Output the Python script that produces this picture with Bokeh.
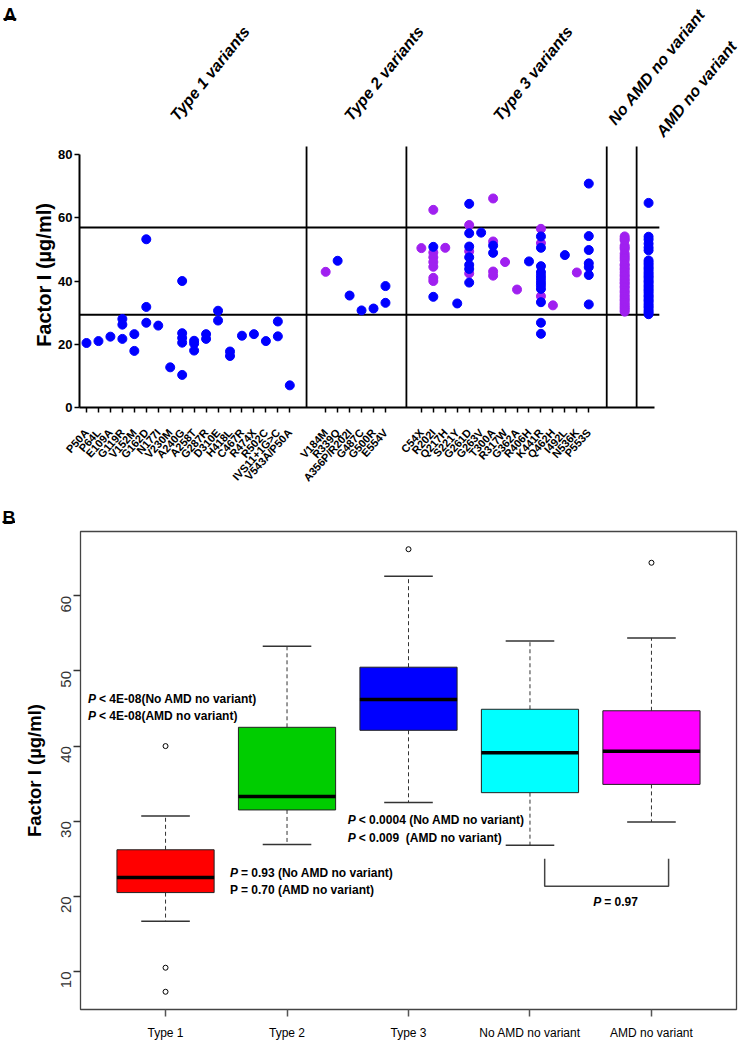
import math
from bokeh.plotting import figure
from bokeh.models import FixedTicker
from bokeh.layouts import column
from bokeh.embed import file_html
from bokeh.resources import INLINE
from bokeh.core.properties import value

# ---------------- Panel A data ----------------
type1_labels = ["P50A", "P64L", "E109A", "G119R", "V152M", "G162D", "N177I", "V230M", "A240G",
                "A258T", "G287R", "D310E", "H418L", "C467R", "R474X", "R502C", "IVS11+1G>C", "V543A/P50A"]
type1_blue = [[20.4], [21.0], [22.4], [28.0, 26.2, 21.7], [23.2, 17.9], [53.2, 31.8, 26.8], [25.9],
              [12.7], [40.0, 23.5, 22.0, 20.5, 10.3], [21.1, 20.2, 18.0], [23.2, 21.7], [30.6, 27.5],
              [17.7, 16.3], [22.7], [23.2], [21.0], [27.2, 22.5], [7.0]]
type1_purple = [[] for _ in type1_labels]

type2_labels = ["V184M", "R339Q", "A356P/R202I", "G487C", "G500R", "E554V"]
type2_blue = [[], [46.4], [35.4], [30.7], [31.3], [38.4, 33.1]]
type2_purple = [[42.9], [], [], [], [], []]

type3_labels = ["C54X", "R202I", "Q217H", "S221Y", "G261D", "G263V", "T300A", "R317W", "G362A",
                "R406H", "K441R", "Q462H", "I492L", "N536K", "P553S"]
type3_blue = [[], [50.8, 35.0], [], [32.9], [64.4, 55.1, 50.9, 47.5, 45.1, 43.8, 39.5], [55.3],
              [51.2, 48.9], [], [], [46.2],
              [54.1, 50.5, 44.7, 42.8, 41.7, 40.7, 39.6, 38.6, 37.5, 33.3, 26.8, 23.3],
              [], [48.2], [], [70.8, 54.2, 49.8, 45.6, 44.4, 41.9, 32.6]]
type3_purple = [[50.4], [62.5, 49.0, 47.5, 46.0, 44.5, 41.0, 40.0], [50.5], [], [57.7, 49.4, 42.4], [],
                [66.1, 52.5, 43.0, 41.7], [46.0], [37.3], [], [56.5, 52.0, 35.2], [32.3], [], [42.7], []]

noamd_values = [54.1, 53.4, 52.9, 51.2, 50.6, 50.1, 48.7, 47.9, 47.2, 46.5, 45.3, 44.9, 44.1, 43.6,
                42.8, 42.0, 41.5, 40.7, 40.2, 39.5, 39.1, 38.3, 37.8, 36.9, 36.4, 35.6, 35.0, 34.3,
                33.8, 33.1, 32.5, 31.9, 31.4, 30.8, 30.3]
amd_values = [64.7, 54.0, 53.1, 51.8, 50.6, 49.7, 46.5, 45.8, 45.1, 44.3, 43.7, 42.9, 42.2, 41.5,
              40.9, 40.1, 39.6, 38.8, 38.2, 37.5, 36.9, 36.2, 35.4, 34.9, 34.1, 33.6, 32.8, 32.1,
              31.5, 30.7, 30.1, 29.5]

ref_lines = [56.9, 29.3]
group_names = ["Type 1 variants", "Type 2 variants", "Type 3 variants", "No AMD no variant", "AMD no variant"]

# ---------------- Panel B data ----------------
box_labels = ["Type 1", "Type 2", "Type 3", "No AMD no variant", "AMD no variant"]
box_lower = [16.7, 26.9, 32.5, 26.8, 29.9]
box_q1 = [20.5, 31.5, 42.1, 33.8, 34.9]
box_median = [22.5, 33.3, 46.2, 39.1, 39.3]
box_q3 = [26.2, 42.5, 50.5, 44.9, 44.7]
box_upper = [30.7, 53.3, 62.6, 54.0, 54.4]
box_colors = ["#ff0000", "#00cd00", "#0000ff", "#00ffff", "#ff00ff"]
outlier_group = [1, 1, 1, 3, 5]
outlier_values = [40.0, 10.5, 7.3, 66.2, 64.4]

p_rest = ["< 4E-08(No AMD no variant)", "< 4E-08(AMD no variant)",
          "= 0.93 (No AMD no variant)", "= 0.70 (AMD no variant)",
          "< 0.0004 (No AMD no variant)", "< 0.009\u00a0\u00a0(AMD no variant)", "= 0.97"]
p_italic = [True, True, True, False, True, True, True]

BLUE = "#0000ff"
PURPLE = "#a020f0"
SANS = "'Liberation Sans', Arial, sans-serif"

# ---------------- positions (layout) ----------------
pos1 = list(range(0, 18))
pos2 = list(range(20, 26))
pos3 = list(range(28, 43))
pos_noamd, pos_amd = 45, 47
separators = [18.4, 26.75, 43.5, 46.0]
XR = (-0.585, 55.02)      # panel A x range (frame from page x 87 to 752)

COMMON = dict(output_backend="svg", toolbar_location=None, frame_align=False)

# ---------------- header with group names ----------------
hdr = figure(width=744, height=142, x_range=(-7.191, 55.017), y_range=(0, 142),
             x_axis_type=None, y_axis_type=None,
             min_border_left=0, min_border_right=0, min_border_top=0, min_border_bottom=0, **COMMON)
hdr.outline_line_color = None
hdr.grid.visible = False
grp_x = [7.27, 21.82, 34.28, 43.9, 47.9]
grp_y = [24, 24, 24, 20, 8]
hdr.text(x=grp_x, y=grp_y, text=group_names, angle=math.radians(51), text_font=value(SANS),
         text_font_style="bold italic", text_font_size="16px", text_align="left",
         text_baseline="alphabetic", text_color="black")
hdr.text(x=[-6.95], y=[128], text=["A"], text_font=value(SANS), text_font_style="bold",
         text_font_size="18px", text_align="left", text_baseline="alphabetic")
hdr.segment(x0=[-6.95], x1=[-5.87], y0=[123.5], y1=[123.5], line_color="black", line_width=1.8)

# ---------------- Panel A ----------------
pA = figure(width=744, height=350, x_range=XR, y_range=(0, 83.8),
            min_border_left=79, min_border_right=0, min_border_top=0, min_border_bottom=85, **COMMON)
pA.outline_line_color = None
pA.grid.visible = False

xb, yb, xp, yp = [], [], [], []
for poss, blues, purples in [(pos1, type1_blue, type1_purple), (pos2, type2_blue, type2_purple),
                             (pos3, type3_blue, type3_purple)]:
    for x, bl, pu in zip(poss, blues, purples):
        xb += [x] * len(bl); yb += bl
        xp += [x] * len(pu); yp += pu
xp += [pos_noamd] * len(noamd_values); yp += noamd_values
xb += [pos_amd] * len(amd_values); yb += amd_values

pA.segment(x0=[-0.585] * len(ref_lines), x1=[47.9] * len(ref_lines), y0=ref_lines, y1=ref_lines,
           line_color="black", line_width=2)
pA.segment(x0=separators, x1=separators, y0=[0] * 4, y1=[82.5] * 4, line_color="black", line_width=1.8)
pA.scatter(xp, yp, size=9, color=PURPLE)
pA.scatter(xb, yb, size=9, color=BLUE)

ticks = pos1 + pos2 + pos3
labels = type1_labels + type2_labels + type3_labels
pA.xaxis.ticker = FixedTicker(ticks=ticks)
pA.xaxis.major_label_overrides = {t: l for t, l in zip(ticks, labels)}
pA.xaxis.bounds = (-0.585, 47.5)
pA.xaxis.axis_line_width = 2
pA.xaxis.major_tick_out = 5
pA.xaxis.major_tick_in = 0
pA.xaxis.minor_tick_line_color = None
pA.xaxis.major_tick_line_width = 1.5
pA.xaxis.major_label_orientation = math.radians(48)
pA.xaxis.major_label_text_font = SANS
pA.xaxis.major_label_text_font_style = "bold"
pA.xaxis.major_label_text_font_size = "11px"
pA.xaxis.major_label_text_color = "black"
pA.xaxis.major_label_standoff = 18

pA.yaxis.ticker = FixedTicker(ticks=[0, 20, 40, 60, 80])
pA.yaxis.bounds = (0, 80)
pA.yaxis.axis_line_width = 2
pA.yaxis.major_tick_out = 5
pA.yaxis.major_tick_in = 0
pA.yaxis.major_tick_line_width = 1.5
pA.yaxis.minor_tick_line_color = None
pA.yaxis.major_label_text_font = SANS
pA.yaxis.major_label_text_font_style = "bold"
pA.yaxis.major_label_text_font_size = "13px"
pA.yaxis.major_label_text_color = "black"
pA.yaxis.major_label_standoff = 2
pA.yaxis.axis_label = "Factor I (\u00b5g/ml)"
pA.yaxis.axis_label_text_font = SANS
pA.yaxis.axis_label_text_font_style = "bold"
pA.yaxis.axis_label_text_font_size = "20px"
pA.yaxis.axis_label_text_color = "black"
pA.yaxis.axis_label_standoff = 0

# ---------------- strip with the "B" tag ----------------
bst = figure(width=744, height=37, x_range=(0, 744), y_range=(0, 37),
             x_axis_type=None, y_axis_type=None,
             min_border_left=0, min_border_right=0, min_border_top=0, min_border_bottom=0, **COMMON)
bst.outline_line_color = None
bst.grid.visible = False
bst.text(x=[2], y=[12], text=["B"], text_font=value(SANS), text_font_style="bold",
         text_font_size="18px", text_align="left", text_baseline="alphabetic")
bst.segment(x0=[2], x1=[14.5], y0=[7.5], y1=[7.5], line_color="black", line_width=1.8)

# ---------------- Panel B ----------------
bx = [1, 2, 3, 4, 5]
pB = figure(width=744, height=513, x_range=(0.3, 5.7), y_range=(4.94, 68.56),
            min_border_left=80, min_border_right=8, min_border_top=2, min_border_bottom=32, **COMMON)
pB.outline_line_color = "#444444"
pB.outline_line_width = 1.3
pB.grid.visible = False

pB.segment(x0=bx, x1=bx, y0=box_q3, y1=box_upper, line_color="#333333", line_width=1, line_dash="4 3")
pB.segment(x0=bx, x1=bx, y0=box_q1, y1=box_lower, line_color="#333333", line_width=1, line_dash="4 3")
pB.segment(x0=[x - 0.2 for x in bx], x1=[x + 0.2 for x in bx], y0=box_upper, y1=box_upper,
           line_color="#333333", line_width=1.5)
pB.segment(x0=[x - 0.2 for x in bx], x1=[x + 0.2 for x in bx], y0=box_lower, y1=box_lower,
           line_color="#333333", line_width=1.5)
pB.vbar(x=bx, width=0.8, bottom=box_q1, top=box_q3, fill_color=box_colors, line_color="#222222",
        line_width=1)
pB.segment(x0=[x - 0.4 for x in bx], x1=[x + 0.4 for x in bx], y0=box_median, y1=box_median,
           line_color="black", line_width=3.5)
pB.scatter(outlier_group, outlier_values, marker="circle", size=5, fill_color=None,
           line_color="black", line_width=1)

# bracket between the two "no variant" groups
pB.line([4.121, 4.121, 5.141, 5.141], [25.0, 21.35, 21.35, 25.0], line_color="#444444", line_width=1.5)

p_x = [0.362, 0.362, 1.53, 1.53, 2.5, 2.5, 4.52]
p_y = [46.3, 43.99, 23.16, 20.86, 30.13, 27.77, 19.26]
ix = [i for i in range(len(p_x)) if p_italic[i]]
nx = [i for i in range(len(p_x)) if not p_italic[i]]
pB.text(x=[p_x[i] for i in ix], y=[p_y[i] for i in ix], text=["P"] * len(ix),
        text_font=value(SANS), text_font_style="bold italic", text_font_size="12px",
        text_baseline="middle", text_align="left")
pB.text(x=[p_x[i] for i in nx], y=[p_y[i] for i in nx], text=["P"] * len(nx),
        text_font=value(SANS), text_font_style="bold", text_font_size="12px",
        text_baseline="middle", text_align="left")
pB.text(x=p_x, y=p_y, text=p_rest, x_offset=11, text_font=value(SANS), text_font_style="bold",
        text_font_size="12px", text_baseline="middle", text_align="left")

pB.xaxis.ticker = FixedTicker(ticks=bx)
pB.xaxis.major_label_overrides = {x: l for x, l in zip(bx, box_labels)}
pB.xaxis.axis_line_color = None
pB.xaxis.major_tick_out = 7
pB.xaxis.major_tick_in = 0
pB.xaxis.major_tick_line_color = "#555555"
pB.xaxis.major_tick_line_width = 1.5
pB.xaxis.minor_tick_line_color = None
pB.xaxis.major_label_text_font = SANS
pB.xaxis.major_label_text_font_size = "12px"
pB.xaxis.major_label_text_color = "black"
pB.xaxis.major_label_standoff = 9

pB.yaxis.ticker = FixedTicker(ticks=[10, 20, 30, 40, 50, 60])
pB.yaxis.axis_line_color = None
pB.yaxis.major_tick_out = 7
pB.yaxis.major_tick_in = 0
pB.yaxis.major_tick_line_color = "#333333"
pB.yaxis.major_tick_line_width = 1.3
pB.yaxis.minor_tick_line_color = None
pB.yaxis.major_label_orientation = math.pi / 2
pB.yaxis.major_label_text_font = SANS
pB.yaxis.major_label_text_font_size = "15px"
pB.yaxis.major_label_text_color = "#333333"
pB.yaxis.major_label_standoff = 7
pB.yaxis.axis_label = "Factor I (\u00b5g/ml)"
pB.yaxis.axis_label_text_font = SANS
pB.yaxis.axis_label_text_font_style = "bold"
pB.yaxis.axis_label_text_font_size = "18.5px"
pB.yaxis.axis_label_text_color = "black"
pB.yaxis.axis_label_standoff = 9

layout = column(hdr, pA, bst, pB)
open("out.html", "w").write(file_html(layout, INLINE))
